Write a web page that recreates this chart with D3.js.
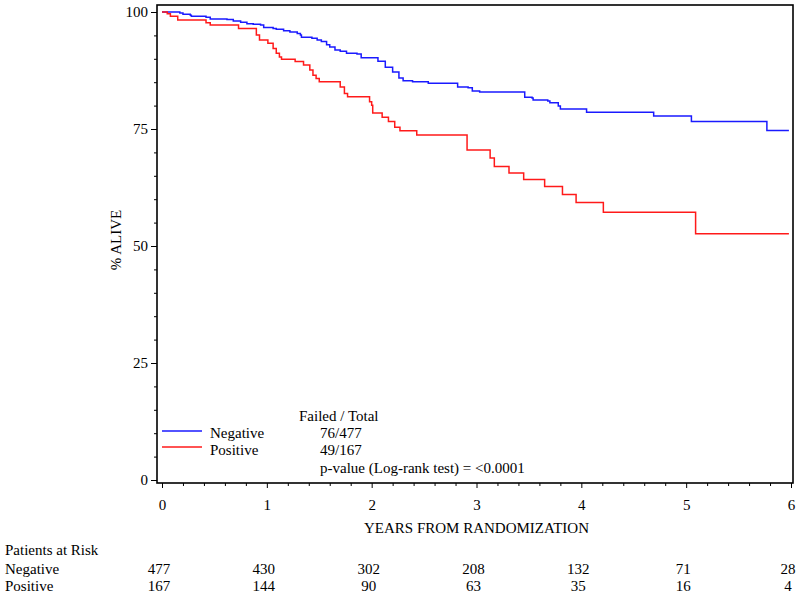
<!DOCTYPE html>
<html>
<head>
<meta charset="utf-8">
<script src="https://cdn.jsdelivr.net/npm/d3@7"></script>
<style>
  body { margin: 0; background: #fff; }
  svg text { font-family: "Liberation Serif", "DejaVu Serif", "Times New Roman", Times, serif !important; fill: #000; }
</style>
</head>
<body>
<script>
const width = 800;
const height = 599;
const FONT = "'Liberation Serif', 'DejaVu Serif', 'Times New Roman', serif";

// Kaplan-Meier steps (years, % alive from that time on)
const negTime = [0, 0.17, 0.20, 0.27, 0.28, 0.42, 0.46, 0.62, 0.68, 0.75, 0.81, 0.87, 0.94, 0.97,
  1.06, 1.09, 1.16, 1.22, 1.29, 1.32, 1.33, 1.43, 1.48, 1.52, 1.57, 1.60, 1.65, 1.70, 1.76, 1.86, 1.90,
  2.06, 2.13, 2.20, 2.26, 2.30, 2.39, 2.54, 2.82, 2.92, 2.96, 3.03, 3.46, 3.53, 3.54, 3.68, 3.70,
  3.78, 3.80, 4.05, 4.69, 5.05, 5.77, 5.98];
const negSurv = [100, 99.8, 99.5, 99.3, 99.1, 98.9, 98.5, 98.4, 98.1, 97.8, 97.5, 97.4, 97.2, 96.7,
  96.5, 96.3, 96.0, 95.7, 95.4, 95.1, 94.6, 94.4, 94.0, 93.7, 93.0, 92.5, 91.9, 91.6, 91.2, 91.0, 90.2,
  89.5, 88.2, 87.2, 85.9, 85.3, 85.1, 84.8, 84.0, 83.8, 83.1, 82.9, 81.8, 81.6, 81.2, 81.0, 80.6,
  79.9, 79.3, 78.6, 77.8, 76.6, 74.7, 74.7];

const posTime = [0, 0.05, 0.08, 0.15, 0.42, 0.46, 0.73, 0.90, 0.93, 1.01, 1.06, 1.09, 1.12, 1.14,
  1.27, 1.35, 1.41, 1.44, 1.47, 1.50, 1.70, 1.74, 1.77, 1.98, 2.00, 2.01, 2.10, 2.16, 2.22, 2.27,
  2.43, 2.91, 3.13, 3.17, 3.31, 3.45, 3.65, 3.82, 3.95, 4.21, 5.09, 5.98];
const posSurv = [100, 99.6, 99.1, 98.3, 97.7, 97.2, 96.5, 95.1, 94.0, 93.3, 92.2, 91.2, 90.4, 89.9,
  89.4, 88.7, 87.6, 86.5, 85.8, 85.1, 84.0, 82.6, 81.9, 80.8, 80.1, 78.4, 77.5, 76.6, 75.4, 74.6,
  73.7, 70.5, 68.8, 67.0, 65.6, 64.2, 62.7, 61.0, 59.3, 57.2, 52.6, 52.6];

const groups = ["Negative", "Positive"];
const groupColors = ["#1a1aff", "#ff1a1a"];
const failedTotal = ["76/477", "49/167"];
const pValueText = "p-value (Log-rank test) = <0.0001";

const xTicks = [0, 1, 2, 3, 4, 5, 6];
const yTicks = [0, 25, 50, 75, 100];
const riskNeg = [477, 430, 302, 208, 132, 71, 28];
const riskPos = [167, 144, 90, 63, 35, 16, 4];

const frame = { left: 157, right: 793, top: 5, bottom: 483 };

const x = d3.scaleLinear().domain([0, 6]).range([162, 791]);
const y = d3.scaleLinear().domain([0, 100]).range([480, 12]);

const svg = d3.select("body")
  .append("svg")
  .attr("width", width)
  .attr("height", height)
  .attr("font-family", FONT);

svg.append("rect")
  .attr("width", width)
  .attr("height", height)
  .attr("fill", "#fff");

// axes
const yAxis = svg.append("g")
  .attr("transform", `translate(${frame.left},0)`)
  .call(d3.axisLeft(y).tickValues(yTicks).tickSize(6).tickPadding(3).tickFormat(d3.format("d")));
const yMinor = svg.append("g")
  .attr("transform", `translate(${frame.left},0)`)
  .call(d3.axisLeft(y).tickValues(d3.range(0, 101, 5).filter(v => v % 25 !== 0)).tickSize(3).tickFormat(""));

const xAxis = svg.append("g")
  .attr("transform", `translate(0,${frame.bottom})`)
  .call(d3.axisBottom(x).tickValues(xTicks).tickSize(5).tickPadding(11).tickFormat(d3.format("d")));
const xMinor = svg.append("g")
  .attr("transform", `translate(0,${frame.bottom})`)
  .call(d3.axisBottom(x).tickValues(d3.range(1, 30).map(i => i / 5).filter(v => Math.abs(v - Math.round(v)) > 0.01)).tickSize(3).tickFormat(""));

[yAxis, yMinor, xAxis, xMinor].forEach(g => {
  g.attr("font-family", FONT).attr("font-size", 15);
  g.select(".domain").remove();
  g.selectAll("line").attr("stroke", "#000").attr("stroke-width", 1);
});

svg.append("rect")
  .attr("x", frame.left)
  .attr("y", frame.top)
  .attr("width", frame.right - frame.left)
  .attr("height", frame.bottom - frame.top)
  .attr("fill", "none")
  .attr("stroke", "#000")
  .attr("stroke-width", 1.6);

// curves
const line = d3.line()
  .x(d => x(d[0]))
  .y(d => y(d[1]))
  .curve(d3.curveStepAfter);

const curves = [d3.zip(negTime, negSurv), d3.zip(posTime, posSurv)];
curves.forEach((pts, i) => {
  svg.append("path")
    .attr("d", line(pts))
    .attr("fill", "none")
    .attr("stroke", groupColors[i])
    .attr("stroke-width", 1.5);
});

// axis titles
svg.append("text")
  .attr("x", x(3))
  .attr("y", 533)
  .attr("text-anchor", "middle")
  .attr("font-size", 15)
  .text("YEARS FROM RANDOMIZATION");

svg.append("text")
  .attr("transform", "translate(121,240) rotate(-90)")
  .attr("text-anchor", "middle")
  .attr("font-size", 15)
  .text("% ALIVE");

// legend
const legend = svg.append("g");
legend.append("text")
  .attr("x", 299).attr("y", 421)
  .attr("font-size", 15)
  .text("Failed / Total");
groups.forEach((g, i) => {
  const ly = 431 + i * 16;
  legend.append("line")
    .attr("x1", 162).attr("x2", 202)
    .attr("y1", ly).attr("y2", ly)
    .attr("stroke", groupColors[i])
    .attr("stroke-width", 1.5);
  legend.append("text")
    .attr("x", 210).attr("y", 438 + i * 17)
    .attr("font-size", 15)
    .text(g);
  legend.append("text")
    .attr("x", 320).attr("y", 438 + i * 17)
    .attr("font-size", 15)
    .text(failedTotal[i]);
});
legend.append("text")
  .attr("x", 320).attr("y", 473)
  .attr("font-size", 15)
  .text(pValueText);

// patients at risk
svg.append("text")
  .attr("x", 5).attr("y", 555)
  .attr("font-size", 15)
  .text("Patients at Risk");

[riskNeg, riskPos].forEach((row, r) => {
  const ry = 574 + r * 17;
  svg.append("text")
    .attr("x", 5).attr("y", ry)
    .attr("font-size", 15)
    .text(groups[r]);
  svg.selectAll(null)
    .data(row)
    .enter()
    .append("text")
    .attr("x", (d, i) => x(xTicks[i]) - 3)
    .attr("y", ry)
    .attr("text-anchor", "middle")
    .attr("font-size", 15)
    .text(d => d);
});
</script>
</body>
</html>
